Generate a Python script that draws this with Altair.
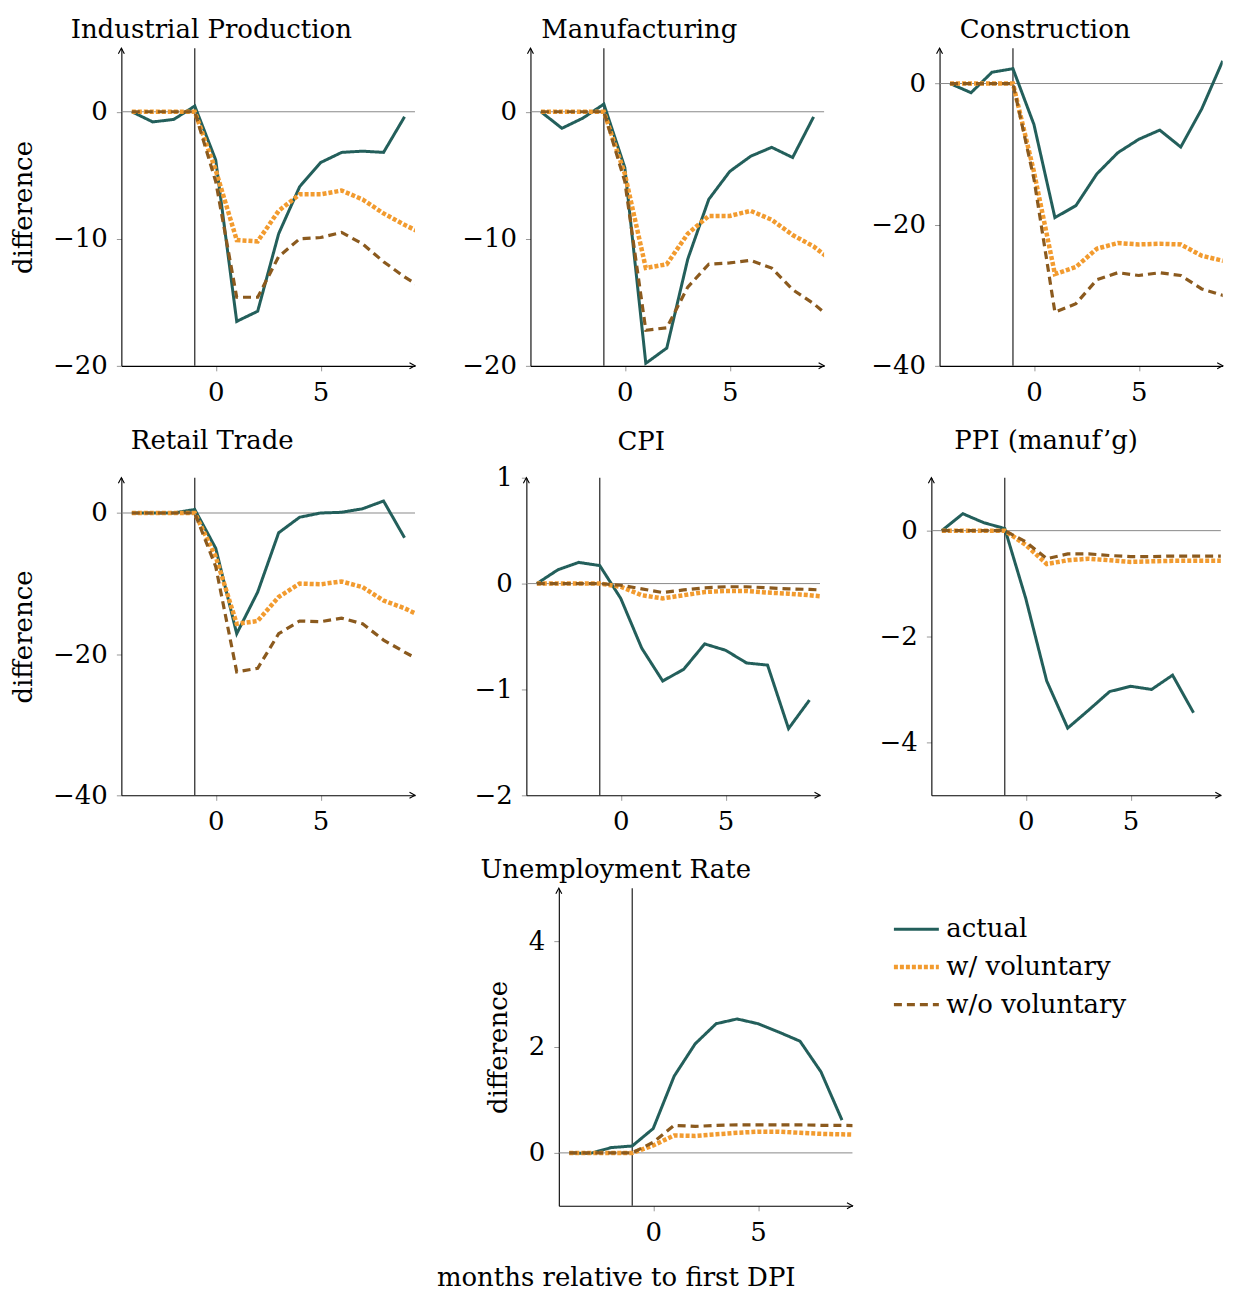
import altair as alt
import pandas as pd

# ---------------- data ----------------
SERIES = ["actual", "w/ voluntary", "w/o voluntary"]
COLORS = ["#235f5b", "#f29b2f", "#8b5a1e"]
DASHES = [[1, 0], [4, 2], [8, 5]]
WIDTHS = [3, 4.5, 3.2]

MONTHS_ACTUAL = list(range(-4, 10))
MONTHS_ACTUAL_PPI = list(range(-4, 9))
MONTHS_CF = list(range(-4, 11))
X_MIN = -4.5
X_MAX = 9.5
X_MAX_CONSTRUCTION = 9.0   # right-hand panels are cut at the page edge
X_MAX_PPI = 9.3
X_TICKS = [0, 5]
DPI_MONTH = -1

ip_actual = [0, -0.8, -0.6, 0.45, -3.8, -16.5, -15.7, -9.6, -5.9, -4.0, -3.2, -3.1, -3.2, -0.4]
ip_w = [0, 0, 0, 0, -4.6, -10.1, -10.2, -7.8, -6.5, -6.5, -6.2, -6.9, -8.0, -8.9, -9.7]
ip_wo = [0, 0, 0, 0, -5.5, -14.6, -14.6, -11.4, -10.0, -9.9, -9.5, -10.4, -11.8, -13.0, -14.0]

mf_actual = [0, -1.3, -0.5, 0.6, -4.4, -19.8, -18.6, -11.6, -6.9, -4.7, -3.5, -2.8, -3.6, -0.4]
mf_w = [0, 0, 0, 0, -4.9, -12.3, -12.0, -9.6, -8.2, -8.2, -7.8, -8.5, -9.7, -10.6, -11.9]
mf_wo = [0, 0, 0, 0, -5.5, -17.2, -17.0, -13.8, -12.0, -11.9, -11.7, -12.3, -14.0, -15.1, -16.5]

co_actual = [0, -1.3, 1.6, 2.1, -5.8, -19.0, -17.3, -12.8, -9.8, -7.9, -6.6, -9.0, -3.6, 3.2]
co_w = [0, 0, 0, 0, -12.5, -27.0, -26.0, -23.4, -22.6, -22.8, -22.7, -22.8, -24.4, -25.1, -25.9]
co_wo = [0, 0, 0, 0, -13.5, -32.4, -31.2, -27.8, -26.8, -27.2, -26.8, -27.2, -29.1, -30.0, -31.6]

rt_actual = [0, 0, 0, 0.5, -5.0, -17.1, -11.2, -2.8, -0.6, 0, 0.1, 0.6, 1.7, -3.5]
rt_w = [0, 0, 0, 0, -6.2, -15.7, -15.3, -11.9, -10.0, -10.1, -9.7, -10.5, -12.4, -13.5, -14.9]
rt_wo = [0, 0, 0, 0, -7.6, -22.5, -22.0, -17.1, -15.3, -15.4, -14.9, -15.7, -18.0, -19.7, -21.3]

cpi_actual = [0, 0.13, 0.2, 0.17, -0.14, -0.61, -0.92, -0.81, -0.57, -0.63, -0.75, -0.77, -1.37, -1.10]
cpi_w = [0, 0, 0, 0, -0.03, -0.11, -0.14, -0.11, -0.08, -0.07, -0.07, -0.085, -0.095, -0.11, -0.13]
cpi_wo = [0, 0, 0, 0, -0.016, -0.05, -0.085, -0.06, -0.04, -0.03, -0.03, -0.04, -0.05, -0.055, -0.065]

ppi_actual = [0, 0.32, 0.15, 0.04, -1.28, -2.84, -3.73, -3.39, -3.04, -2.94, -3.0, -2.73, -3.44]
ppi_w = [0, 0, 0, 0, -0.27, -0.63, -0.56, -0.53, -0.56, -0.59, -0.58, -0.57, -0.57, -0.57, -0.57]
ppi_wo = [0, 0, 0, 0, -0.21, -0.53, -0.44, -0.44, -0.47, -0.49, -0.49, -0.48, -0.48, -0.48, -0.48]

ur_actual = [0, -0.01, 0.1, 0.13, 0.46, 1.45, 2.06, 2.44, 2.53, 2.44, 2.28, 2.11, 1.53, 0.62]
ur_w = [0, 0, 0, 0, 0.14, 0.33, 0.32, 0.35, 0.38, 0.4, 0.4, 0.38, 0.36, 0.35, 0.34]
ur_wo = [0, 0, 0, 0, 0.2, 0.52, 0.5, 0.52, 0.53, 0.53, 0.53, 0.53, 0.52, 0.52, 0.51]

# ---------------- style ----------------
FONT = "DejaVu Serif"
FS = 26
PX_PER_MONTH = 21
H = 318


def make_df(actual, w, wo, months_actual=MONTHS_ACTUAL):
    rows = []
    for m, v in zip(months_actual, actual):
        rows.append({"m": m, "v": v, "s": SERIES[0]})
    for m, v in zip(MONTHS_CF, w):
        rows.append({"m": m, "v": v, "s": SERIES[1]})
    for m, v in zip(MONTHS_CF, wo):
        rows.append({"m": m, "v": v, "s": SERIES[2]})
    return pd.DataFrame(rows)


def panel(title, df, ydom, yticks, dx, toff, ytitle=None, ytitle_x=-90,
          xtitle=None, legend=None, xmax=X_MAX):
    xdom = [X_MIN, xmax]
    width = (xmax - X_MIN) * PX_PER_MONTH
    xscale = alt.Scale(domain=xdom, nice=False, zero=False)
    yscale = alt.Scale(domain=ydom, nice=False, zero=False)
    xaxis_kw = dict(values=X_TICKS, format="d", grid=False, domainColor="black",
                    domainWidth=1.1, tickColor="#999999", tickSize=5,
                    labelPadding=8.5, labelFont=FONT, labelFontSize=FS,
                    labelColor="black")
    if xtitle:
        xaxis_kw.update(title=xtitle, titleFont=FONT, titleFontSize=FS,
                        titleFontWeight="normal", titleColor="black",
                        titleX=57, titleY=80, titleAlign="center",
                        titleBaseline="alphabetic", titleAngle=0)
    else:
        xaxis_kw.update(title=None)
    yaxis_kw = dict(values=yticks, format="d", grid=False, domainColor="black",
                    domainWidth=1.1, tickColor="#999999", tickSize=5,
                    labelPadding=9, labelFont=FONT, labelFontSize=FS,
                    labelColor="black")
    if ytitle:
        yaxis_kw.update(title=ytitle, titleFont=FONT, titleFontSize=FS,
                        titleFontWeight="normal", titleColor="black",
                        titleX=ytitle_x, titleY=H / 2, titleAlign="center",
                        titleBaseline="alphabetic", titleAngle=270)
    else:
        yaxis_kw.update(title=None)

    x_enc = alt.X("m:Q", scale=xscale, axis=alt.Axis(**xaxis_kw))
    y_enc = alt.Y("v:Q", scale=yscale, axis=alt.Axis(**yaxis_kw))

    hline = alt.Chart(pd.DataFrame({"v": [0]})).mark_rule(
        color="#8a8a8a", strokeWidth=1).encode(y=alt.Y("v:Q", scale=yscale))
    vline = alt.Chart(pd.DataFrame({"m": [DPI_MONTH]})).mark_rule(
        color="#222222", strokeWidth=1.2).encode(x=alt.X("m:Q", scale=xscale))

    lines = alt.Chart(df).mark_line(clip=True, strokeCap="butt").encode(
        x=x_enc,
        y=y_enc,
        color=alt.Color("s:N", scale=alt.Scale(domain=SERIES, range=COLORS),
                        sort=SERIES, legend=legend),
        strokeDash=alt.StrokeDash("s:N", scale=alt.Scale(domain=SERIES, range=DASHES),
                                  sort=SERIES, legend=legend),
        strokeWidth=alt.StrokeWidth("s:N", scale=alt.Scale(type="ordinal", domain=SERIES,
                                                           range=WIDTHS),
                                    sort=SERIES, legend=legend),
    )

    up = alt.Chart(pd.DataFrame({"m": [xdom[0]], "v": [ydom[1]]})).mark_point(
        shape="M-0.6,1.1 L0,0 L0.6,1.1", filled=False, stroke="black",
        strokeWidth=1.1, size=100, opacity=1).encode(
        x=alt.X("m:Q", scale=xscale), y=alt.Y("v:Q", scale=yscale))
    right = alt.Chart(pd.DataFrame({"m": [xdom[1]], "v": [ydom[0]]})).mark_point(
        shape="M-1.1,-0.6 L0,0 L-1.1,0.6", filled=False, stroke="black",
        strokeWidth=1.1, size=100, opacity=1).encode(
        x=alt.X("m:Q", scale=xscale), y=alt.Y("v:Q", scale=yscale))

    return alt.layer(hline, vline, lines, up, right).properties(
        width=width, height=H,
        title=alt.TitleParams(title, font=FONT, fontSize=FS, fontWeight="normal",
                              color="black", anchor="middle", dx=dx, offset=toff,
                              baseline="alphabetic"))


legend_spec = alt.Legend(title=None, orient="none", legendX=771, legendY=17,
                         symbolType="stroke", symbolSize=2025, labelFont=FONT,
                         labelFontSize=FS, labelColor="black", labelOffset=5,
                         labelLimit=400, rowPadding=0, padding=0)

p1 = panel("Industrial Production", make_df(ip_actual, ip_w, ip_wo), [-20, 5],
           [-20, -10, 0], -57, -18, ytitle="difference")
p2 = panel("Manufacturing", make_df(mf_actual, mf_w, mf_wo), [-20, 5],
           [-20, -10, 0], -38, -18)
p3 = panel("Construction", make_df(co_actual, co_w, co_wo), [-40, 5],
           [-40, -20, 0], -36, -18, xmax=X_MAX_CONSTRUCTION)
p4 = panel("Retail Trade", make_df(rt_actual, rt_w, rt_wo), [-40, 5],
           [-40, -20, 0], -56, 1, ytitle="difference")
p5 = panel("CPI", make_df(cpi_actual, cpi_w, cpi_wo), [-2, 1],
           [-2, -1, 0, 1], -32, -11)
p6 = panel("PPI (manuf\u2019g)", make_df(ppi_actual, ppi_w, ppi_wo, MONTHS_ACTUAL_PPI),
           [-5, 1], [-4, -2, 0], -30, 1, xmax=X_MAX_PPI)
p7 = panel("Unemployment Rate", make_df(ur_actual, ur_w, ur_wo), [-1, 5],
           [0, 2, 4], -90, -18, ytitle="difference", ytitle_x=-52,
           xtitle="months relative to first DPI", legend=legend_spec)

spacer = alt.Chart(pd.DataFrame({"m": [0], "v": [0]})).mark_point(opacity=0).encode(
    x=alt.X("m:Q", axis=None), y=alt.Y("v:Q", axis=None)).properties(width=337.5, height=H)

row1 = alt.hconcat(p1, p2, p3, spacing=115.6, bounds="flush")
row2 = alt.hconcat(p4, p5, p6, spacing=111.5, bounds="flush")
row3 = alt.hconcat(spacer, p7, spacing=100, bounds="flush")

chart = alt.vconcat(row1, row2, row3, spacing=21).resolve_scale(
    color="independent", strokeDash="independent", strokeWidth="independent"
).properties(
    padding={"left": 2.5, "top": 7.5, "right": 0, "bottom": 0}
).configure_view(stroke=None, strokeWidth=0)

chart.save("out.html", embed_options={"renderer": "svg", "actions": False})
